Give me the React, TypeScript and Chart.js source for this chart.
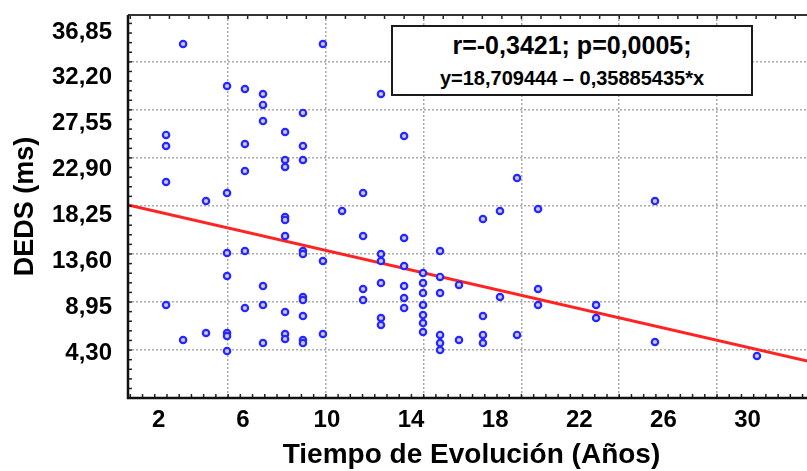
import React, { useEffect, useRef } from 'react';
import { Chart, registerables } from 'chart.js';

Chart.register(...registerables);

// ---- axis labels / ticks ----
const xTickValues = [2, 6, 10, 14, 18, 22, 26, 30];
const yTickValues = [4.3, 8.95, 13.6, 18.25, 22.9, 27.55, 32.2, 36.85];
const xGridValues = [5.3, 9.95, 14.6, 19.25, 23.9, 28.55];
const yGridValues = [4.6, 9.47, 14.34, 19.21, 24.08, 28.95, 33.82];
const X_MIN = 0.54;
const X_MAX = 33.21;
const Y_MIN = -0.26;
const Y_MAX = 38.57;

const xTitle = 'Tiempo de Evolución (Años)';
const yTitle = 'DEDS (ms)';
const statLine1 = 'r=-0,3421; p=0,0005;';
const statLine2 = 'y=18,709444 \u2013 0,35885435*x';

// ---- data ----
const tiempo = [
  2.35, 2.35, 2.35, 2.35,
  3.16, 3.16,
  4.25, 4.25,
  5.25, 5.25, 5.25, 5.25, 5.25, 5.25, 5.25,
  6.1, 6.1, 6.1, 6.1, 6.1,
  6.96, 6.96, 6.96, 6.96, 6.96, 6.96,
  8.01, 8.01, 8.01, 8.01, 8.01, 8.01, 8.01, 8.01, 8.01,
  8.86, 8.86, 8.86, 8.86, 8.86, 8.86, 8.86, 8.86, 8.86, 8.86,
  9.81, 9.81, 9.81,
  10.72,
  11.72, 11.72, 11.72, 11.72,
  12.57, 12.57, 12.57, 12.57, 12.57, 12.57,
  13.67, 13.67, 13.67, 13.67, 13.67, 13.67,
  14.57, 14.57, 14.57, 14.57, 14.57, 14.57, 14.57,
  15.38, 15.38, 15.38, 15.38, 15.38, 15.38,
  16.28, 16.28,
  17.42, 17.42, 17.42, 17.42,
  18.23, 18.23,
  19.04, 19.04,
  20.04, 20.04, 20.04,
  22.8, 22.8,
  25.6, 25.6,
  30.45,
];
const deds = [
  26.41, 25.29, 21.64, 9.17,
  35.63, 5.62,
  19.71, 6.33,
  31.37, 20.52, 14.44, 12.11, 6.33, 6.02, 4.5,
  31.07, 25.49, 22.75, 14.64, 8.86,
  30.56, 29.45, 27.82, 11.09, 9.17, 5.31,
  26.71, 23.87, 23.16, 18.09, 17.79, 16.16, 8.46, 6.23, 5.72,
  28.64, 25.29, 23.87, 14.64, 14.34, 9.98, 9.67, 8.05, 5.62, 5.31,
  35.63, 13.63, 6.23,
  18.7,
  20.52, 16.16, 10.79, 9.67,
  30.56, 14.34, 13.63, 11.4, 7.85, 7.14,
  26.3, 15.96, 13.12, 11.09, 9.88, 8.86,
  12.41, 11.4, 10.38, 9.17, 8.15, 7.34, 6.43,
  14.64, 12.01, 10.38, 6.13, 5.31, 4.6,
  11.2, 5.62,
  17.89, 8.05, 6.13, 5.31,
  18.7, 9.98,
  22.04, 6.13,
  18.9, 10.79, 9.17,
  9.17, 7.85,
  19.71, 5.42,
  4.0,
];
const fitX = [0.54, 33.21];
const fitY = [19.31, 3.3];

const FONT = '"Liberation Sans", Arial, sans-serif';

const framePlugin = {
  id: 'frame',
  afterDatasetsDraw(chart: any) {
    const { ctx, chartArea } = chart;
    const { left, right, top, bottom } = chartArea;
    const xs = chart.scales.x;
    const ys = chart.scales.y;
    ctx.save();
    // minor ticks
    ctx.strokeStyle = '#222';
    ctx.lineWidth = 1.5;
    const yStep = (yGridValues[1] - yGridValues[0]) / 5;
    for (let v = yGridValues[0] - 5 * yStep; v < Y_MAX; v += yStep) {
      if (v <= Y_MIN) continue;
      const p = ys.getPixelForValue(v);
      ctx.beginPath();
      ctx.moveTo(left, p);
      ctx.lineTo(left + 4, p);
      ctx.stroke();
    }
    const xStep = (xGridValues[1] - xGridValues[0]) / 8;
    for (let v = xGridValues[0] - 8 * xStep; v < X_MAX; v += xStep) {
      if (v <= X_MIN) continue;
      const p = xs.getPixelForValue(v);
      ctx.beginPath();
      ctx.moveTo(p, bottom);
      ctx.lineTo(p, bottom - 4);
      ctx.stroke();
    }
    const xTopStep = (xGridValues[1] - xGridValues[0]) / 5;
    for (let v = xGridValues[0] - 5 * xTopStep; v < X_MAX; v += xTopStep) {
      if (v <= X_MIN) continue;
      const p = xs.getPixelForValue(v);
      ctx.beginPath();
      ctx.moveTo(p, top);
      ctx.lineTo(p, top + 4);
      ctx.stroke();
    }
    // frame
    ctx.strokeStyle = '#333';
    ctx.lineWidth = 2;
    ctx.beginPath();
    ctx.moveTo(left, top);
    ctx.lineTo(right, top);
    ctx.stroke();
    ctx.strokeStyle = '#111';
    ctx.lineWidth = 2.5;
    ctx.beginPath();
    ctx.moveTo(left, top);
    ctx.lineTo(left, bottom);
    ctx.lineTo(right, bottom);
    ctx.stroke();
    ctx.restore();
  },
};

export default function App() {
  const canvasRef = useRef<HTMLCanvasElement | null>(null);

  useEffect(() => {
    const canvas = canvasRef.current;
    if (!canvas) return;
    const points = tiempo.map((x, i) => ({ x, y: deds[i] }));
    const fit = fitX.map((x, i) => ({ x, y: fitY[i] }));
    const tickFont = { family: FONT, size: 24, weight: 'bold' as const };
    const noPad = (s: any) => {
      s.paddingTop = 0;
      s.paddingBottom = 0;
      s.paddingLeft = 0;
      s.paddingRight = 0;
    };
    const chart = new Chart(canvas, {
      type: 'scatter',
      data: {
        datasets: [
          {
            type: 'scatter',
            data: points,
            pointStyle: 'circle',
            pointRadius: 3.2,
            borderWidth: 2.2,
            borderColor: '#2626ff',
            backgroundColor: '#c8c8ff',
          },
          {
            type: 'line',
            data: fit,
            borderColor: '#ff2424',
            borderWidth: 3,
            pointRadius: 0,
            fill: false,
          } as any,
        ],
      },
      options: {
        responsive: false,
        animation: false,
        events: [],
        layout: { padding: { left: 0, top: 15, right: 15, bottom: 0 } },
        plugins: {
          legend: { display: false },
          tooltip: { enabled: false },
        },
        scales: {
          x: {
            type: 'linear',
            position: 'bottom',
            min: X_MIN,
            max: X_MAX,
            afterBuildTicks: (s: any) => {
              s.ticks = xTickValues.map((v) => ({ value: v }));
            },
            afterFit: (s: any) => {
              s.height = 73;
              noPad(s);
            },
            ticks: {
              color: '#000',
              font: tickFont,
              padding: 8,
              autoSkip: false,
              maxRotation: 0,
              callback: (v: any) => String(v),
            },
            grid: { display: false, drawTicks: false },
            border: { display: false },
            title: {
              display: true,
              text: xTitle,
              color: '#000',
              font: { family: FONT, size: 28, weight: 'bold', lineHeight: 1.1 },
              padding: { top: 0, bottom: 0 },
            },
          },
          y: {
            type: 'linear',
            position: 'left',
            min: Y_MIN,
            max: Y_MAX,
            afterBuildTicks: (s: any) => {
              s.ticks = yTickValues.map((v) => ({ value: v }));
            },
            afterFit: (s: any) => {
              s.width = 128;
              noPad(s);
            },
            ticks: {
              color: '#000',
              font: tickFont,
              padding: 16,
              autoSkip: false,
              callback: (v: any) => Number(v).toFixed(2).replace('.', ','),
            },
            grid: { display: false, drawTicks: false },
            border: { display: false },
            title: {
              display: true,
              text: yTitle,
              color: '#000',
              font: { family: FONT, size: 27, weight: 'bold' },
              padding: { top: 9, bottom: 0 },
            },
          },
          xg: {
            type: 'linear',
            position: 'bottom',
            min: X_MIN,
            max: X_MAX,
            afterBuildTicks: (s: any) => {
              s.ticks = xGridValues.map((v) => ({ value: v }));
            },
            afterFit: (s: any) => {
              s.height = 0;
              noPad(s);
            },
            ticks: { display: false },
            grid: { color: '#a9a9a9', lineWidth: 1.5, drawTicks: false },
            border: { display: false, dash: [2, 2] },
          },
          yg: {
            type: 'linear',
            position: 'left',
            min: Y_MIN,
            max: Y_MAX,
            afterBuildTicks: (s: any) => {
              s.ticks = yGridValues.map((v) => ({ value: v }));
            },
            afterFit: (s: any) => {
              s.width = 0;
              noPad(s);
            },
            ticks: { display: false },
            grid: { color: '#a9a9a9', lineWidth: 1.5, drawTicks: false },
            border: { display: false, dash: [2, 2] },
          },
        } as any,
      },
      plugins: [framePlugin],
    });
    return () => chart.destroy();
  }, []);

  return (
    <div
      style={{
        position: 'fixed',
        left: 0,
        top: 0,
        width: 807,
        height: 471,
        overflow: 'hidden',
        background: '#fff',
      }}
    >
      <canvas ref={canvasRef} width={830} height={471} style={{ display: 'block' }} />
      <div
        style={{
          position: 'absolute',
          left: 391,
          top: 25,
          width: 362,
          height: 71,
          boxSizing: 'border-box',
          border: '2.5px solid #1a1a1a',
          background: '#fff',
        }}
      />
      <div
        style={{
          position: 'absolute',
          left: 391,
          width: 362,
          top: 32,
          height: 26,
          lineHeight: '26px',
          textAlign: 'center',
          fontFamily: FONT,
          fontWeight: 'bold',
          fontSize: 25,
          color: '#000',
          whiteSpace: 'nowrap',
        }}
      >
        {statLine1}
      </div>
      <div
        style={{
          position: 'absolute',
          left: 391,
          width: 362,
          top: 67,
          height: 22,
          lineHeight: '22px',
          textAlign: 'center',
          fontFamily: FONT,
          fontWeight: 'bold',
          fontSize: 20,
          color: '#000',
          whiteSpace: 'nowrap',
        }}
      >
        {statLine2}
      </div>
    </div>
  );
}
